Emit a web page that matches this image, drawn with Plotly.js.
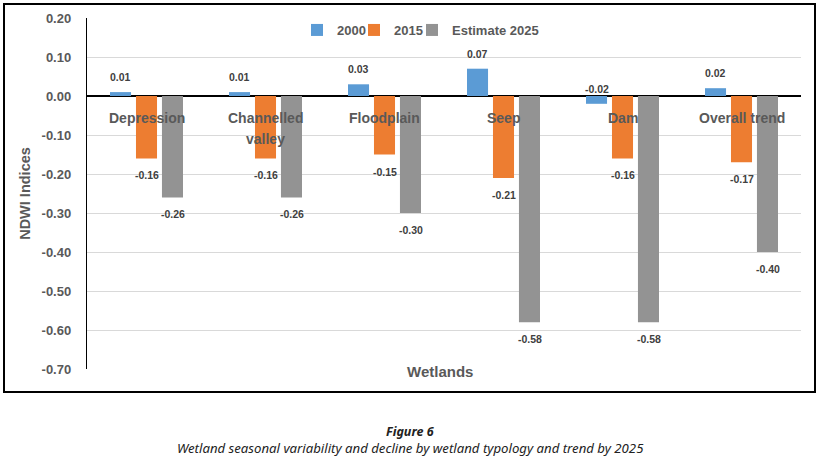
<!DOCTYPE html>
<html>
<head>
<meta charset="utf-8">
<script src="https://cdn.plot.ly/plotly-3.0.1.min.js"></script>
<style>html,body{margin:0;padding:0;background:#fff;}#chart{width:820px;height:459px;}</style>
</head>
<body>
<div id="chart"></div>
<script>
const categories = ["Depression", "Channelled<br>valley", "Floodplain", "Seep", "Dam", "Overall trend"];
const seriesNames = ["2000", "2015", "Estimate 2025"];
const values2000 = [0.01, 0.01, 0.03, 0.07, -0.02, 0.02];
const values2015 = [-0.16, -0.16, -0.15, -0.21, -0.16, -0.17];
const values2025 = [-0.26, -0.26, -0.30, -0.58, -0.58, -0.40];
const yTicks = [0.20, 0.10, 0.00, -0.10, -0.20, -0.30, -0.40, -0.50, -0.60, -0.70];
const captionTitle = "Figure 6";
const captionText = "Wetland seasonal variability and decline by wetland typology and trend by 2025";

const colors = ["#5B9BD5", "#ED7D31", "#939393"];
const allValues = [values2000, values2015, values2025];
const labelAbove = [true, false, false];
const legendLeftPx = [310, 367, 425];
const slot = 26;
const FONT = "Liberation Sans, Arial, sans-serif";
const legendIds = ["legend", "legend2", "legend3"];

const traces = allValues.map((vals, i) => ({
  type: "bar",
  name: seriesNames[i],
  x: categories,
  y: vals,
  marker: {color: colors[i]},
  legend: legendIds[i],
  hoverinfo: "x+y"
}));

const annotations = [];
allValues.forEach((vals, i) => {
  vals.forEach((v, k) => {
    annotations.push({
      x: categories[k], y: v, xref: "x", yref: "y",
      text: v.toFixed(2), showarrow: false,
      xshift: (i - 1) * slot, yshift: labelAbove[i] ? 15 : -17,
      yanchor: "middle",
      font: {family: FONT, size: 10.5, color: "#404040", weight: "bold"}
    });
  });
});
categories.forEach((c) => {
  c.split("<br>").forEach((line, j) => {
    annotations.push({
      x: c, y: 0, xref: "x", yref: "y", text: line, showarrow: false,
      yanchor: "middle", yshift: -22 - j * 21,
      font: {family: FONT, size: 14, color: "#595959", weight: "bold"}
    });
  });
});
annotations.push({
  x: 0.494, y: -0.0085, xref: "paper", yref: "paper", text: "Wetlands", showarrow: false,
  yanchor: "middle", font: {family: FONT, size: 15, color: "#595959", weight: "bold"}
});
annotations.push({
  x: (410 - 87) / 714, y: (369 - 431) / 351, xref: "paper", yref: "paper",
  text: "<b><i>" + captionTitle + "</i></b>", showarrow: false, yanchor: "middle",
  font: {family: "Noto Sans, sans-serif", size: 12.5, color: "#222"}
});
annotations.push({
  x: (410 - 87) / 714, y: (369 - 448) / 351, xref: "paper", yref: "paper",
  text: "<i>" + captionText + "</i>", showarrow: false, yanchor: "middle",
  font: {family: "Noto Sans, sans-serif", size: 13.2, color: "#222"}
});

const layout = {
  width: 820, height: 459,
  margin: {l: 87, r: 19, t: 18, b: 90},
  paper_bgcolor: "#fff", plot_bgcolor: "#fff",
  barmode: "group", bargap: 0.345, bargroupgap: 0.19,
  showlegend: true,
  xaxis: {type: "category", showticklabels: false, ticks: "", showgrid: false, showline: false, zeroline: false, fixedrange: true},
  yaxis: {range: [-0.70, 0.20], tickvals: yTicks, ticktext: yTicks.map(v => v.toFixed(2)),
    showgrid: true, gridcolor: "#d9d9d9", gridwidth: 1,
    zeroline: true, zerolinecolor: "#000", zerolinewidth: 1.5,
    showline: true, linecolor: "#000", linewidth: 1.2, ticks: "", ticklabelstandoff: 12,
    tickfont: {family: FONT, size: 13, color: "#595959", weight: "bold"},
    title: {text: "NDWI Indices", standoff: 7, font: {family: FONT, size: 14.5, color: "#595959", weight: "bold"}},
    automargin: false, fixedrange: true},
  annotations: annotations,
  shapes: [{type: "rect", xref: "paper", yref: "paper",
    x0: (4 - 87) / 714, x1: (815 - 87) / 714, y0: (369 - 392) / 351, y1: 1 + (18 - 4) / 351,
    line: {color: "#000", width: 2}, fillcolor: "rgba(0,0,0,0)", layer: "below"}]
};
legendIds.forEach((id, i) => {
  layout[id] = {orientation: "h", x: (legendLeftPx[i] - 13 - 87) / 714, y: 1 - (30 - 18) / 351,
    xanchor: "left", yanchor: "middle", itemwidth: 30,
    font: {family: FONT, size: 13, color: "#595959", weight: "bold"}, bgcolor: "rgba(0,0,0,0)"};
});

Plotly.newPlot("chart", traces, layout, {displayModeBar: false, staticPlot: true});
</script>
</body>
</html>
